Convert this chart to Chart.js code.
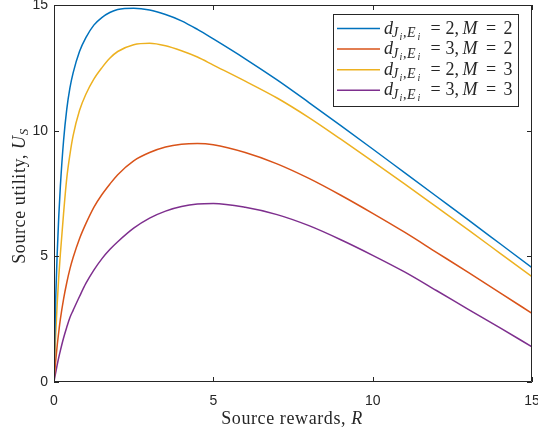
<!DOCTYPE html>
<html>
<head>
<meta charset="utf-8">
<script src="https://cdn.jsdelivr.net/npm/chart.js@4.4.1/dist/chart.umd.min.js"></script>
<style>
  html, body { margin: 0; padding: 0; background: #fff; }
  #wrap { width: 538px; height: 434px; }
</style>
</head>
<body>
<div id="wrap"><canvas id="utilChart" width="538" height="434"></canvas></div>
<script>
// source rewards R (x values shared by every curve)
const rewards = [0, 0.02, 0.05, 0.1, 0.15, 0.2, 0.3, 0.4, 0.5, 0.6, 0.8, 1, 1.25, 1.5, 1.75, 2, 2.5, 3, 3.5, 4, 4.5, 5, 6, 7, 8, 9, 10, 11, 12, 13, 14, 15];

// source utility U_S
const utilD2M2 = [0, 1.5, 3.2, 5.1, 6.6, 7.8, 9.6, 10.85, 11.7, 12.3, 13.15, 13.7, 14.2, 14.5, 14.7, 14.82, 14.87, 14.8, 14.62, 14.37, 14.03, 13.65, 12.86, 12.02, 11.12, 10.2, 9.27, 8.33, 7.39, 6.45, 5.5, 4.55];
const utilD3M2 = [0, 0.35, 0.8, 1.45, 2.0, 2.5, 3.3, 3.95, 4.5, 4.95, 5.7, 6.3, 6.95, 7.45, 7.87, 8.25, 8.8, 9.13, 9.35, 9.46, 9.49, 9.44, 9.13, 8.68, 8.1, 7.43, 6.71, 5.96, 5.16, 4.36, 3.55, 2.73];
const utilD2M3 = [0, 0.8, 1.8, 3.1, 4.2, 5.1, 6.7, 8.1, 9.05, 9.8, 10.8, 11.45, 12.05, 12.5, 12.88, 13.15, 13.42, 13.48, 13.38, 13.18, 12.93, 12.61, 11.97, 11.3, 10.52, 9.66, 8.78, 7.88, 6.97, 6.05, 5.12, 4.19];
const utilD3M3 = [0, 0.15, 0.35, 0.68, 0.98, 1.25, 1.75, 2.18, 2.57, 2.85, 3.4, 3.92, 4.45, 4.9, 5.27, 5.58, 6.12, 6.52, 6.8, 6.98, 7.08, 7.1, 6.95, 6.66, 6.22, 5.66, 5.04, 4.38, 3.64, 2.89, 2.15, 1.4];

// legend parameters d_{Ji,Ei} and M
const legendD = [2, 3, 2, 3];
const legendM = [2, 2, 3, 3];

const xTicks = [0, 5, 10, 15];
const yTicks = [0, 5, 10, 15];

const colors = ["#0072BD", "#D95319", "#EDB120", "#7E2F8E"];
const axisColor = "#262626";
const serif = "'Liberation Serif', 'Times New Roman', serif";

function toPoints(ys) {
  return rewards.map((r, i) => ({ x: r, y: ys[i] }));
}

const series = [utilD2M2, utilD3M2, utilD2M3, utilD3M3];

function setFont(ctx, size, italic) {
  ctx.font = (italic ? "italic " : "") + size + "px " + serif;
}

// runs: [text, size, italic, dy]
function drawRuns(ctx, runs, x, y) {
  runs.forEach(run => {
    setFont(ctx, run[1], run[2]);
    ctx.fillText(run[0], x, y + run[3]);
    x += ctx.measureText(run[0]).width;
  });
}
function runsWidth(ctx, runs) {
  let w = 0;
  runs.forEach(run => {
    setFont(ctx, run[1], run[2]);
    w += ctx.measureText(run[0]).width;
  });
  return w;
}

const framePlugin = {
  id: "frame",
  afterDatasetsDraw(chart) {
    const ctx = chart.ctx;
    const a = chart.chartArea;
    const xs = chart.scales.x, ys = chart.scales.y;
    ctx.save();
    ctx.strokeStyle = axisColor;
    ctx.lineWidth = 1;
    ctx.beginPath();
    ctx.rect(Math.round(a.left) + 0.5, Math.round(a.top) + 0.5, Math.round(a.right - a.left) - 1, Math.round(a.bottom - a.top) - 1);
    const tl = 5;
    xTicks.forEach(v => {
      const px = Math.round(xs.getPixelForValue(v)) + 0.5;
      ctx.moveTo(px, a.bottom); ctx.lineTo(px, a.bottom - tl);
      ctx.moveTo(px, a.top); ctx.lineTo(px, a.top + tl);
    });
    yTicks.forEach(v => {
      const py = Math.round(ys.getPixelForValue(v)) + 0.5;
      ctx.moveTo(a.left, py); ctx.lineTo(a.left + tl, py);
      ctx.moveTo(a.right, py); ctx.lineTo(a.right - tl, py);
    });
    ctx.stroke();
    ctx.restore();
  },
  afterDraw(chart) {
    const ctx = chart.ctx;
    ctx.save();
    ctx.fillStyle = axisColor;
    ctx.textBaseline = "alphabetic";
    ctx.letterSpacing = "0.6px";

    // x axis title
    const xRuns = [["Source rewards, ", 18, false, 0], ["R", 18, true, 0]];
    const xw = runsWidth(ctx, xRuns);
    drawRuns(ctx, xRuns, 292 - xw / 2, 424);

    // y axis title
    const yRuns = [["Source utility, ", 18, false, 0], ["U", 18, true, 0], ["S", 13, true, 3]];
    const yw = runsWidth(ctx, yRuns);
    ctx.save();
    ctx.translate(25, 196);
    ctx.rotate(-Math.PI / 2);
    drawRuns(ctx, yRuns, -yw / 2, 0);
    ctx.restore();
    ctx.letterSpacing = "0px";

    // legend
    const box = { x: 333, y: 14, w: 185, h: 92 };
    ctx.fillStyle = "#fff";
    ctx.fillRect(box.x, box.y, box.w, box.h);
    ctx.strokeStyle = axisColor;
    ctx.lineWidth = 1;
    ctx.strokeRect(box.x + 0.5, box.y + 0.5, box.w, box.h);
    legendD.forEach((d, i) => {
      const cy = 28.5 + i * 20.6;
      ctx.strokeStyle = colors[i];
      ctx.lineWidth = 1.5;
      ctx.beginPath();
      ctx.moveTo(337, cy); ctx.lineTo(380, cy);
      ctx.stroke();
      ctx.fillStyle = axisColor;
      const base = cy + 5;
      // [text, size, italic, dy, x offset from text start]
      const runs = [
        ["d", 18, true, 0, 0],
        ["J", 14, true, 3.5, 8], ["i", 10, true, 6, 15.5], [",", 14, false, 3.5, 19],
        ["E", 14, true, 3.5, 23], ["i", 10, true, 6, 33.5],
        ["=", 18, false, 0, 46.5], [d + ",", 18, false, 0, 61.5],
        ["M", 18, true, 0, 78.5], ["=", 18, false, 0, 102], [String(legendM[i]), 18, false, 0, 119.5]
      ];
      runs.forEach(run => {
        setFont(ctx, run[1], run[2]);
        ctx.fillText(run[0], 384 + run[4], base + run[3]);
      });
    });
    ctx.restore();
  }
};

const ctx = document.getElementById("utilChart").getContext("2d");
const chart = new Chart(ctx, {
  type: "line",
  data: {
    datasets: series.map((ys, i) => ({
      label: "d=" + legendD[i] + ", M=" + legendM[i],
      data: toPoints(ys),
      borderColor: colors[i],
      borderWidth: 1.5,
      pointRadius: 0,
      fill: false,
      cubicInterpolationMode: "monotone"
    }))
  },
  options: {
    responsive: false,
    animation: false,
    layout: { padding: { top: 5, right: 6, left: 0, bottom: 0 } },
    plugins: {
      legend: { display: false },
      tooltip: { enabled: false }
    },
    scales: {
      x: {
        type: "linear",
        min: 0,
        max: 15,
        afterBuildTicks: s => { s.ticks = xTicks.map(v => ({ value: v })); },
        afterFit: s => { s.height = 52; s.paddingLeft = 0; s.paddingRight = 0; },
        grid: { display: false, drawTicks: false },
        border: { display: false },
        ticks: {
          padding: 11,
          maxRotation: 0,
          color: axisColor,
          font: { family: "'Liberation Sans', Arial, sans-serif", size: 14 }
        }
      },
      y: {
        type: "linear",
        min: 0,
        max: 15,
        afterBuildTicks: s => { s.ticks = yTicks.map(v => ({ value: v })); },
        afterFit: s => { s.width = 54; s.paddingTop = 0; s.paddingBottom = 0; },
        grid: { display: false, drawTicks: false },
        border: { display: false },
        ticks: {
          padding: 6,
          color: axisColor,
          font: { family: "'Liberation Sans', Arial, sans-serif", size: 14 }
        }
      }
    }
  },
  plugins: [framePlugin]
});
</script>
</body>
</html>
